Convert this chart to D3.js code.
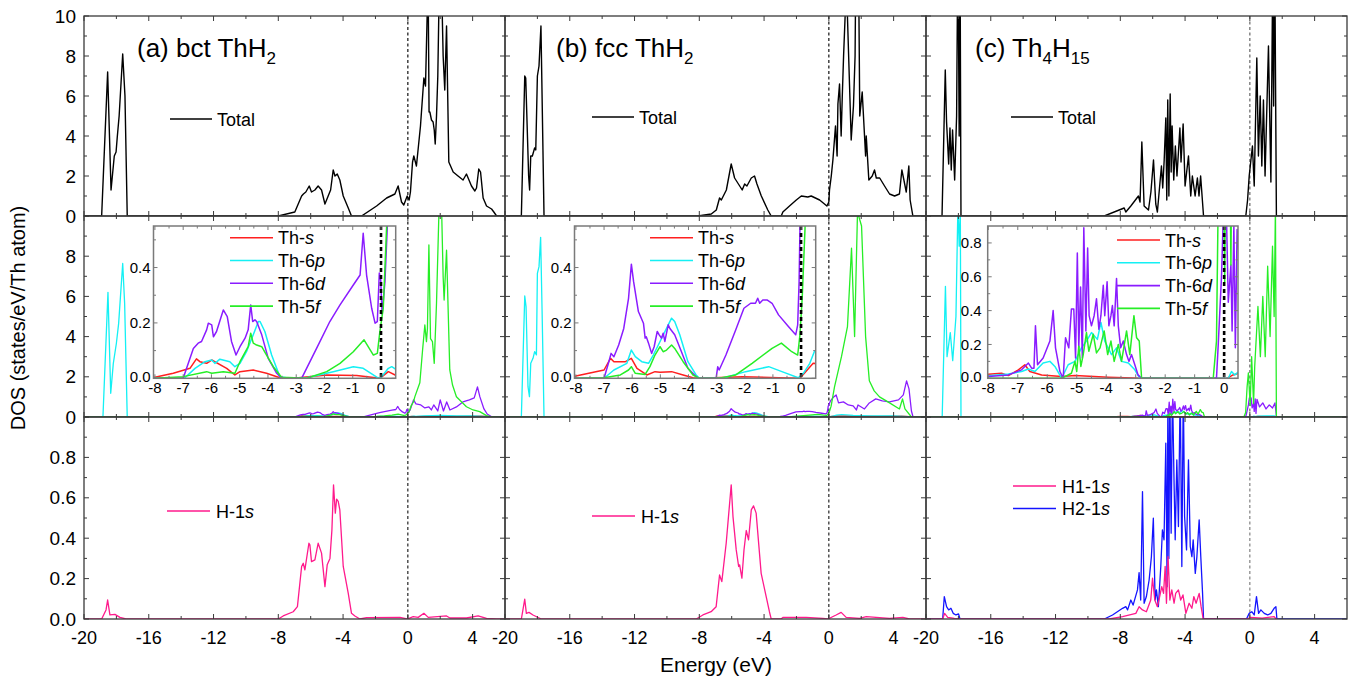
<!DOCTYPE html>
<html>
<head>
<meta charset="utf-8">
<script src="https://cdn.jsdelivr.net/npm/d3@7"></script>
<style>
  body { margin: 0; background: #fff; }
  svg { display: block; }
  text { font-family: "Liberation Sans", Arial, Helvetica, sans-serif; fill: #000; }
</style>
</head>
<body>
<svg id="chart" width="1357" height="687"></svg>
<script>
// ---------- tick labels ----------
const energyTicks = [-20, -16, -12, -8, -4, 0, 4];
const totalTicks = [0, 2, 4, 6, 8, 10];
const partialTicks = [0, 2, 4, 6, 8];
const hydrogenTicks = [0, 0.2, 0.4, 0.6, 0.8];
const insetEnergyTicks = [-8, -7, -6, -5, -4, -3, -2, -1, 0];
const insetDosTicksAB = [0, 0.2, 0.4];
const insetDosTicksC = [0, 0.2, 0.4, 0.6, 0.8];
const panelTitles = [
  [["(a) bct ThH", false], ["2", true]],
  [["(b) fcc ThH", false], ["2", true]],
  [["(c) Th", false], ["4", true], ["H", false], ["15", true]]
];
const thLegend = [["Th-", "s"], ["Th-6", "p"], ["Th-6", "d"], ["Th-5", "f"]];

// ---------- total DOS, [energy (eV), states/eV/Th atom] ----------
const totalA = [[-20,0],[-18.91,0],[-18.54,7.2],[-18.33,1.3],[-18.13,3.0],[-18.02,3.2],[-17.94,4.0],[-17.83,5.0],[-17.61,8.1],[-17.47,6.0],[-17.33,0],[-8.0,0],[-6.98,0.2],[-6.56,1.0],[-6.45,1.1],[-6.3,1.2],[-6.09,1.5],[-5.95,1.2],[-5.74,1.3],[-5.54,1.5],[-5.33,1.3],[-5.12,0.6],[-4.92,1.0],[-4.77,1.3],[-4.61,2.3],[-4.5,2.0],[-4.36,2.1],[-4.2,1.8],[-3.99,1.0],[-3.68,0.4],[-3.48,0],[-2.86,0],[-1.93,0.5],[-1.31,0.9],[-0.8,1.1],[-0.6,1.5],[-0.39,0.7],[-0.25,0.55],[-0.04,1.0],[0.08,0.8],[0.16,1.2],[0.29,2.7],[0.37,3.0],[0.53,2.5],[0.78,4.5],[0.99,6.9],[1.09,6.5],[1.25,12],[1.31,5.2],[1.36,5.2],[1.46,4.8],[1.56,4.7],[1.63,4.3],[1.69,3.6],[1.77,5.0],[1.85,7.0],[1.93,11],[2.1,11],[2.18,8],[2.28,6.3],[2.39,9.5],[2.53,2.7],[2.8,2.2],[3.1,2.0],[3.41,1.8],[3.62,2.1],[3.93,1.5],[4.14,1.25],[4.24,1.4],[4.38,2.35],[4.49,2.2],[4.65,0.9],[4.86,0.5],[5.17,0.35],[5.31,0.2],[5.48,0],[6,0]];
const totalB = [[-20,0],[-18.99,0],[-18.78,7.0],[-18.72,6.9],[-18.54,2.0],[-18.48,1.3],[-18.41,3.0],[-18.31,3.0],[-18.17,3.4],[-18.1,3.3],[-18.0,7.0],[-17.9,7.5],[-17.78,9.5],[-17.59,0],[-8.09,0],[-7.26,0.1],[-6.95,0.3],[-6.75,0.9],[-6.64,0.8],[-6.33,1.3],[-6.03,2.6],[-5.82,1.9],[-5.35,1.3],[-5.2,1.6],[-5.06,1.5],[-4.79,1.9],[-4.59,2.0],[-4.44,1.6],[-4.17,1.0],[-3.77,0.3],[-3.56,0],[-2.94,0],[-2.84,0.2],[-2.43,0.5],[-2.01,0.8],[-1.7,1.0],[-1.3,0.95],[-1.09,1.0],[-0.57,0.8],[-0.12,0.5],[0,0.7],[0.04,1.3],[0.15,2.0],[0.25,2.8],[0.41,4.5],[0.51,3.0],[0.56,5.6],[0.66,6.6],[0.76,4.0],[0.83,6.0],[0.91,8.0],[1.03,10.5],[1.11,11],[1.38,3.8],[1.52,5.5],[1.62,8],[1.65,11],[1.85,11],[1.91,5],[2.06,6.2],[2.27,3.0],[2.31,4.0],[2.47,1.8],[2.68,2.0],[2.82,2.3],[2.93,1.9],[3.14,1.9],[3.44,1.5],[3.75,1.1],[4.06,1.0],[4.36,1.1],[4.51,2.3],[4.61,1.9],[4.78,1.2],[4.94,2.5],[5.02,0.8],[5.19,0],[6,0]];
const totalC = [[-20,0],[-19.01,0],[-18.81,7.3],[-18.73,4.7],[-18.6,2.6],[-18.52,4.4],[-18.44,2.3],[-18.36,4.3],[-18.23,1.8],[-18.11,5.0],[-18.03,14],[-17.95,4.0],[-17.9,14],[-17.84,0],[-8.99,0],[-8.07,0.3],[-7.76,0.4],[-7.66,0.2],[-7.35,0.5],[-6.88,1.0],[-6.78,0.7],[-6.67,3.7],[-6.53,0.5],[-6.26,0.3],[-6.11,1.2],[-5.95,2.8],[-5.81,0.6],[-5.71,0.2],[-5.46,2.5],[-5.38,1.4],[-5.29,2.8],[-5.19,4.9],[-5.13,0.8],[-5.07,5.8],[-5.0,1.0],[-4.92,6.1],[-4.86,2.2],[-4.8,4.5],[-4.7,1.8],[-4.6,3.5],[-4.5,2.0],[-4.32,4.4],[-4.25,2.7],[-4.12,4.6],[-4.0,1.5],[-3.79,3.0],[-3.65,1.0],[-3.55,2.0],[-3.38,1.0],[-3.24,1.9],[-3.14,1.0],[-3.04,2.0],[-2.86,0],[-0.25,0],[-0.14,0.8],[-0.04,2.0],[0.16,3.5],[0.27,1.5],[0.43,7.9],[0.53,3.0],[0.64,6.0],[0.74,2.5],[0.84,5.8],[0.94,2.0],[1.15,8.5],[1.3,1.7],[1.4,11],[1.47,5.5],[1.53,14],[1.64,0],[6,0]];

// ---------- Th partial DOS ----------
const thS_A = [[-20,0],[-8.5,0],[-8.0,0.004],[-7.35,0.018],[-6.76,0.036],[-6.53,0.07],[-6.41,0.06],[-6.17,0.054],[-5.99,0.066],[-5.46,0.036],[-5.17,0.012],[-4.99,0.024],[-4.52,0.03],[-4.05,0.018],[-3.58,0.002],[-3.1,0],[-1.92,0.012],[-0.86,0.01],[-0.04,0],[0.26,0.024],[0.5,0.012],[1.0,0.03],[2.0,0.05],[3.0,0.03],[4.5,0.04],[5.3,0],[6,0]];
const thP_A = [[-20,0],[-18.83,0],[-18.52,6.2],[-18.35,1.18],[-18.19,2.67],[-18.0,3.67],[-17.86,4.66],[-17.61,7.64],[-17.49,5.65],[-17.33,0],[-7.0,0],[-6.94,0.002],[-6.58,0.036],[-6.23,0.06],[-5.99,0.066],[-5.88,0.054],[-5.7,0.069],[-5.35,0.06],[-5.17,0.042],[-4.99,0.054],[-4.76,0.096],[-4.52,0.157],[-4.34,0.205],[-4.28,0.205],[-4.11,0.169],[-3.87,0.084],[-3.58,0.006],[-3.22,0],[-2.63,0.002],[-1.69,0.024],[-0.98,0.042],[-0.63,0.036],[-0.15,0.004],[-0.02,0],[0.26,0.036],[0.38,0.042],[0.5,0.034],[1.0,0.06],[2.0,0.08],[3.0,0.05],[4.0,0.05],[5.3,0],[6,0]];
const thD_A = [[-20,0],[-7.0,0],[-6.64,0.108],[-6.47,0.127],[-6.35,0.133],[-6.17,0.175],[-6.11,0.199],[-5.99,0.193],[-5.93,0.15],[-5.82,0.169],[-5.58,0.247],[-5.44,0.223],[-5.29,0.133],[-5.13,0.084],[-4.99,0.114],[-4.81,0.145],[-4.7,0.175],[-4.61,0.265],[-4.54,0.205],[-4.46,0.211],[-4.4,0.205],[-4.22,0.157],[-3.99,0.072],[-3.69,0.018],[-3.52,0],[-2.81,0],[-2.69,0.024],[-2.28,0.108],[-1.81,0.205],[-1.45,0.265],[-0.98,0.337],[-0.74,0.373],[-0.63,0.524],[-0.51,0.373],[-0.33,0.253],[-0.21,0.199],[-0.13,0.205],[-0.06,0.38],[-0.01,0.355],[0.04,0.23],[0.14,0.35],[0.35,0.85],[0.5,0.65],[0.8,0.6],[1.05,0.45],[1.3,0.5],[1.45,0.35],[1.6,0.6],[1.85,0.3],[2.0,0.85],[2.2,0.3],[2.4,0.75],[2.6,0.35],[3.0,0.5],[3.4,0.75],[3.8,0.85],[4.1,0.95],[4.3,1.5],[4.45,1.0],[4.7,0.4],[4.9,0.15],[5.2,0],[6,0]];
const thF_A = [[-20,0],[-8,0],[-7.0,0.006],[-6.17,0.024],[-5.99,0.018],[-5.58,0.024],[-5.17,0.018],[-4.99,0.06],[-4.7,0.114],[-4.61,0.163],[-4.52,0.127],[-4.4,0.12],[-4.22,0.114],[-4.05,0.084],[-3.81,0.042],[-3.52,0.004],[-2.63,0],[-1.92,0.024],[-1.45,0.054],[-0.98,0.096],[-0.6,0.139],[-0.27,0.084],[-0.13,0.09],[-0.04,0.169],[0.08,0.253],[0.2,0.55],[0.35,0.76],[0.43,1.0],[0.74,1.7],[0.91,3.33],[1.05,4.58],[1.15,3.75],[1.21,4.4],[1.3,8.56],[1.4,3.9],[1.52,3.75],[1.63,2.67],[1.77,5.66],[1.93,10.5],[2.08,10.5],[2.18,6.98],[2.24,5.82],[2.39,8.3],[2.49,5.3],[2.59,2.34],[2.76,1.59],[3.0,1.01],[3.31,0.76],[3.62,0.51],[4.03,0.35],[4.44,0.27],[4.86,0.07],[5.17,0],[6,0]];

const thS_B = [[-20,0],[-8.5,0],[-8,0.008],[-7.0,0.03],[-6.77,0.072],[-6.65,0.06],[-6.24,0.06],[-6.03,0.072],[-5.83,0.036],[-5.48,0.012],[-5.19,0.024],[-5.01,0.022],[-4.6,0.024],[-4.19,0.012],[-3.84,0.002],[-3.61,0],[-2.09,0.006],[-0.8,0.002],[-0.04,0],[0.43,0.054],[1.0,0.05],[2.0,0.04],[3.0,0.03],[4.5,0.04],[5.2,0],[6,0]];
const thP_B = [[-20,0],[-18.99,0],[-18.78,6.02],[-18.7,5.49],[-18.58,1.51],[-18.49,1.01],[-18.41,2.67],[-18.27,2.92],[-18.17,3.25],[-18.06,3.09],[-18.0,7.15],[-17.9,7.48],[-17.8,8.94],[-17.71,5.3],[-17.59,0],[-7.0,0],[-6.65,0.03],[-6.19,0.054],[-6.03,0.102],[-5.89,0.078],[-5.66,0.06],[-5.42,0.054],[-5.25,0.084],[-5.01,0.133],[-4.72,0.193],[-4.6,0.217],[-4.49,0.205],[-4.31,0.157],[-4.02,0.06],[-3.73,0.012],[-3.61,0],[-2.79,0],[-1.97,0.024],[-1.15,0.042],[-0.68,0.024],[-0.1,0.002],[0.08,0.018],[0.31,0.054],[0.47,0.096],[0.8,0.12],[1.5,0.08],[2.5,0.06],[4.0,0.05],[5.2,0],[6,0]];
const thD_B = [[-20,0],[-7.0,0],[-6.83,0.06],[-6.75,0.09],[-6.65,0.078],[-6.48,0.12],[-6.3,0.18],[-6.13,0.289],[-6.03,0.412],[-5.95,0.349],[-5.78,0.241],[-5.6,0.199],[-5.54,0.145],[-5.5,0.15],[-5.42,0.127],[-5.31,0.09],[-5.22,0.114],[-5.11,0.169],[-5.04,0.157],[-4.96,0.145],[-4.9,0.163],[-4.84,0.133],[-4.72,0.193],[-4.66,0.18],[-4.49,0.157],[-4.25,0.096],[-4.02,0.036],[-3.73,0.006],[-3.61,0],[-3.02,0],[-2.96,0.042],[-2.91,0.03],[-2.67,0.084],[-2.32,0.175],[-2.03,0.253],[-1.79,0.271],[-1.62,0.271],[-1.54,0.289],[-1.47,0.271],[-1.36,0.283],[-1.21,0.283],[-1.03,0.271],[-0.8,0.229],[-0.45,0.187],[-0.19,0.157],[-0.12,0.193],[-0.07,0.349],[-0.04,0.54],[0.1,0.8],[0.3,1.0],[0.45,1.1],[0.6,0.7],[0.9,0.75],[1.2,0.6],[1.5,0.55],[1.7,0.35],[1.8,0.6],[2.2,0.4],[2.5,0.7],[2.9,0.9],[3.3,0.8],[3.75,0.75],[4.3,0.85],[4.6,1.1],[4.8,1.8],[4.95,1.4],[5.1,0.3],[5.2,0],[6,0]];
const thF_B = [[-20,0],[-8,0],[-7.0,0.002],[-6.42,0.012],[-6.13,0.03],[-6.03,0.042],[-5.89,0.018],[-5.54,0.014],[-5.37,0.042],[-5.19,0.084],[-5.01,0.114],[-4.9,0.096],[-4.78,0.102],[-4.6,0.12],[-4.49,0.108],[-4.19,0.06],[-3.84,0.012],[-3.61,0],[-2.91,0],[-2.32,0.012],[-1.74,0.054],[-1.03,0.108],[-0.7,0.127],[-0.33,0.096],[-0.12,0.084],[-0.04,0.157],[0.04,0.289],[0.14,0.54],[0.35,1.5],[0.78,3.0],[1.15,4.5],[1.4,8.4],[1.59,4.0],[1.77,10.2],[2.02,9.5],[2.27,4.0],[2.5,1.8],[2.8,1.3],[3.13,1.0],[3.75,0.7],[4.36,0.4],[4.55,0.9],[4.7,0.4],[5.1,0],[6,0]];

const thS_C = [[-20,0],[-8.5,0],[-8,0.024],[-7.55,0.03],[-7.32,0.016],[-6.98,0.05],[-6.76,0.08],[-6.59,0.04],[-6.19,0.02],[-5.51,0.01],[-5.06,0.016],[-3.93,0.006],[-2.8,0],[0.1,0],[0.3,0.02],[0.5,0.03],[1.0,0.02],[1.65,0],[6,0]];
const thP_C = [[-20,0],[-19.0,0],[-18.8,6.5],[-18.7,3.0],[-18.5,4.2],[-18.35,2.8],[-18.15,5.0],[-18.03,10.5],[-17.95,8.5],[-17.88,10.5],[-17.84,0],[-8.5,0],[-8,0.015],[-7.32,0.025],[-6.87,0.04],[-6.64,0.055],[-6.42,0.04],[-6.14,0.09],[-5.91,0.1],[-5.74,0.07],[-5.51,0],[-5.29,0.08],[-5.06,0.1],[-4.84,0.18],[-4.67,0.22],[-4.5,0.27],[-4.3,0.23],[-4.18,0.33],[-4.05,0.22],[-3.82,0.14],[-3.65,0.18],[-3.48,0.1],[-3.25,0.09],[-3.03,0.05],[-2.86,0],[0.14,0],[0.25,0.04],[0.36,0.02],[0.5,0.04],[1.0,0.05],[1.5,0.06],[1.65,0],[6,0]];
const thD_C = [[-20,0],[-8.5,0],[-8,0.01],[-7.32,0.02],[-6.87,0.05],[-6.64,0.09],[-6.53,0.06],[-6.45,0.06],[-6.4,0.31],[-6.33,0.08],[-6.14,0.12],[-5.91,0.22],[-5.8,0.40],[-5.72,0.18],[-5.57,0.04],[-5.46,0],[-5.38,0.24],[-5.27,0.18],[-5.18,0.41],[-5.1,0.41],[-5.04,0.12],[-4.98,0.74],[-4.93,0.18],[-4.87,0.54],[-4.81,0.12],[-4.76,0.89],[-4.69,0.28],[-4.63,0.77],[-4.58,0.37],[-4.5,0.31],[-4.41,0.37],[-4.33,0.47],[-4.25,0.29],[-4.18,0.37],[-4.1,0.55],[-4.05,0.37],[-3.97,0.57],[-3.91,0.31],[-3.84,0.37],[-3.79,0.43],[-3.73,0.31],[-3.65,0.59],[-3.59,0.31],[-3.51,0.18],[-3.42,0.22],[-3.31,0.14],[-3.23,0.1],[-3.14,0.14],[-3.03,0.08],[-2.92,0.02],[-2.8,0],[-0.26,0],[-0.2,0.2],[-0.09,0.6],[-0.03,0.95],[0.08,0.95],[0.14,0.45],[0.23,0.67],[0.27,0.28],[0.33,0.9],[0.38,0.18],[0.44,0.88],[0.6,0.5],[0.8,0.7],[1.0,0.4],[1.2,0.6],[1.4,0.45],[1.55,0.7],[1.65,0],[6,0]];
const thF_C = [[-20,0],[-5.85,0],[-5.51,0],[-5.18,0.03],[-5.06,0.1],[-5.0,0.04],[-4.93,0.19],[-4.86,0.07],[-4.78,0.14],[-4.67,0.27],[-4.59,0.16],[-4.44,0.26],[-4.33,0.15],[-4.21,0.18],[-4.07,0.28],[-3.95,0.14],[-3.84,0.22],[-3.73,0.1],[-3.59,0.2],[-3.48,0.1],[-3.31,0.28],[-3.2,0.14],[-3.06,0.37],[-2.97,0.24],[-2.88,0.22],[-2.8,0],[-0.37,0],[-0.26,0.22],[-0.17,1.5],[-0.09,2.2],[0.02,0.57],[0.11,3.0],[0.23,0.67],[0.3,2.5],[0.5,5.5],[0.65,3.0],[0.8,6.0],[0.95,3.0],[1.1,7.5],[1.25,4.0],[1.4,8.5],[1.5,5.0],[1.58,10.5],[1.64,0],[6,0]];

// ---------- H 1s partial DOS ----------
const h1sA = [[-20,0],[-18.91,0],[-18.64,0.045],[-18.54,0.094],[-18.4,0.02],[-18.09,0.023],[-17.78,0.008],[-17.41,0],[-8.0,0],[-7.7,0.015],[-7.08,0.036],[-6.82,0.061],[-6.56,0.26],[-6.46,0.276],[-6.36,0.243],[-6.11,0.375],[-6.05,0.367],[-5.95,0.284],[-5.74,0.293],[-5.54,0.375],[-5.33,0.326],[-5.12,0.16],[-4.98,0.268],[-4.81,0.3],[-4.69,0.44],[-4.59,0.664],[-4.48,0.524],[-4.4,0.593],[-4.3,0.582],[-4.2,0.54],[-3.99,0.26],[-3.68,0.127],[-3.48,0.028],[-3.27,0.015],[-2.96,0],[-2.55,0.007],[-0.49,0.008],[-0.04,0],[0.33,0.012],[0.64,0.008],[0.99,0.028],[1.26,0.008],[2.39,0.015],[2.6,0.005],[3.62,0.005],[4.34,0.015],[4.86,0.003],[5.48,0],[6,0]];
const h1sB = [[-20,0],[-18.99,0],[-18.78,0.098],[-18.68,0.028],[-18.52,0.033],[-18.27,0.02],[-17.76,0],[-8.19,0],[-7.78,0.02],[-7.27,0.036],[-6.96,0.061],[-6.75,0.218],[-6.61,0.185],[-6.34,0.375],[-6.18,0.524],[-6.03,0.664],[-5.92,0.507],[-5.72,0.342],[-5.57,0.26],[-5.51,0.268],[-5.37,0.202],[-5.24,0.342],[-5.1,0.438],[-4.96,0.392],[-4.79,0.54],[-4.65,0.56],[-4.49,0.524],[-4.18,0.226],[-3.87,0.111],[-3.67,0.036],[-3.56,0],[-2.95,0],[-2.84,0.008],[-1.4,0.008],[-0.37,0.003],[-0.06,0],[0.45,0.02],[0.76,0.033],[1.07,0.008],[1.9,0.003],[2.31,0.012],[3.75,0.003],[4.57,0.008],[4.98,0],[6,0]];
const h1sC1 = [[-20,0],[-18.97,0],[-18.85,0.028],[-18.66,0.008],[-18.25,0.003],[-17.94,0],[-8.68,0],[-7.86,0.012],[-7.04,0.028],[-6.84,0.061],[-6.63,0.045],[-6.39,0.036],[-6.12,0.094],[-6.01,0.202],[-5.87,0.094],[-5.71,0.061],[-5.57,0.111],[-5.44,0.16],[-5.33,0.127],[-5.23,0.26],[-5.15,0.078],[-5.05,0.309],[-4.94,0.094],[-4.82,0.144],[-4.68,0.078],[-4.58,0.127],[-4.41,0.144],[-4.27,0.094],[-4.13,0.119],[-3.95,0.028],[-3.75,0.078],[-3.58,0.053],[-3.46,0.111],[-3.32,0.078],[-3.13,0.127],[-3.01,0.061],[-2.88,0],[-0.17,0],[0.04,0.008],[0.76,0.004],[1.5,0.012],[1.62,0],[1.7,0]];
const h2sC = [[-20,0],[-18.97,0],[-18.87,0.111],[-18.73,0.061],[-18.6,0.045],[-18.46,0.053],[-18.32,0.028],[-18.15,0.02],[-17.99,0.025],[-17.9,0],[-8.99,0],[-8.48,0.02],[-7.86,0.053],[-7.66,0.061],[-7.55,0.045],[-7.35,0.094],[-7.21,0.069],[-6.94,0.144],[-6.84,0.23],[-6.74,0.094],[-6.63,0.631],[-6.53,0.078],[-6.39,0.111],[-6.22,0.193],[-6.08,0.309],[-5.96,0.499],[-5.85,0.094],[-5.77,0.144],[-5.65,0.061],[-5.5,0.26],[-5.4,0.441],[-5.3,0.392],[-5.19,0.871],[-5.11,0.16],[-5.06,1.15],[-5.0,0.3],[-4.94,1.15],[-4.86,0.425],[-4.78,1.15],[-4.68,0.673],[-4.61,0.392],[-4.51,0.788],[-4.41,0.458],[-4.3,1.15],[-4.2,0.26],[-4.11,1.15],[-4.03,0.507],[-3.91,0.342],[-3.79,0.788],[-3.68,0.359],[-3.58,0.309],[-3.5,0.392],[-3.37,0.226],[-3.27,0.309],[-3.13,0.491],[-3.03,0.309],[-2.92,0.127],[-2.86,0],[-0.21,0],[-0.04,0.028],[0.12,0.036],[0.27,0.02],[0.41,0.111],[0.54,0.028],[0.68,0.045],[0.89,0.028],[1.1,0.02],[1.3,0.028],[1.5,0.053],[1.61,0.061],[1.67,0],[6,0]];

// ---------- layout ----------
const svg = d3.select("#chart");
const defs = svg.append("defs");
const colRanges = [[84, 505], [505, 926], [926, 1347]];
const rowTop = [216, 16], rowMid = [417, 216], rowBot = [619, 417];
const colors = { s: "#ff1f1f", p: "#14f0f4", d: "#8a1cff", f: "#26ee26", h1: "#ff1a8c", h2: "#1414ff" };
const frameColor = "#3a3a3a";

const panels = [
  { total: totalA, th: [thS_A, thP_A, thD_A, thF_A],
    hyd: [{ data: h1sA, color: colors.h1, label: ["H-1", "s"] }],
    titleX: 137, totalLeg: [170, 119], hLeg: [167, 511],
    inset: { x: [153.5, 395.7], dom: [-8.05, 0.52], ymax: 0.55, yTicks: insetDosTicksAB, legX: 230, labGap: 3 } },
  { total: totalB, th: [thS_B, thP_B, thD_B, thF_B],
    hyd: [{ data: h1sB, color: colors.h1, label: ["H-1", "s"] }],
    titleX: 556, totalLeg: [592, 117], hLeg: [592, 516],
    inset: { x: [574.5, 815.7], dom: [-8.05, 0.52], ymax: 0.55, yTicks: insetDosTicksAB, legX: 650, labGap: 3 } },
  { total: totalC, th: [thS_C, thP_C, thD_C, thF_C],
    hyd: [{ data: h2sC, color: colors.h2, label: ["H2-1", "s"] },
          { data: h1sC1, color: colors.h1, label: ["H1-1", "s"] }],
    titleX: 975, totalLeg: [1011, 117], hLeg: [1013, 486],
    inset: { x: [987.7, 1238], dom: [-8.02, 0.47], ymax: 0.9, yTicks: insetDosTicksC, legX: 1117, legY0: 240, labGap: 6 } }
];
const thColors = [colors.s, colors.p, colors.d, colors.f];

function clip(id, x0, y0, x1, y1) {
  defs.append("clipPath").attr("id", id).append("rect")
    .attr("x", x0).attr("y", y0).attr("width", x1 - x0).attr("height", y1 - y0);
  return `url(#${id})`;
}
function curve(g, data, x, y, color, width, clipRef) {
  g.append("path").datum(data)
    .attr("d", d3.line().x(d => x(d[0])).y(d => y(d[1])))
    .attr("fill", "none").attr("stroke", color).attr("stroke-width", width)
    .attr("stroke-linejoin", "round").attr("clip-path", clipRef);
}
function seg(g, x1, y1, x2, y2, color, w) {
  g.append("line").attr("x1", x1).attr("y1", y1).attr("x2", x2).attr("y2", y2)
    .attr("stroke", color).attr("stroke-width", w);
}
// inward ticks on all four sides of a frame
function frameTicks(g, x, y, xMaj, xMin, yMaj, yMin, lMaj, lMin, color) {
  const [xa, xb] = x.range(), [ya, yb] = y.range();
  const xt = (v, l) => { const px = x(v); seg(g, px, ya, px, ya - l, color, 1); seg(g, px, yb, px, yb + l, color, 1); };
  const yt = (v, l) => { const py = y(v); seg(g, xa, py, xa + l, py, color, 1); seg(g, xb, py, xb - l, py, color, 1); };
  xMaj.forEach(v => xt(v, lMaj)); xMin.forEach(v => xt(v, lMin));
  yMaj.forEach(v => yt(v, lMaj)); yMin.forEach(v => yt(v, lMin));
}
function richText(g, x, y, parts, size, anchor) {
  const t = g.append("text").attr("x", x).attr("y", y).attr("font-size", size)
    .attr("text-anchor", anchor || "start");
  parts.forEach(([s, italic]) => t.append("tspan").text(s).attr("font-style", italic ? "italic" : "normal"));
  return t;
}
function fermi(g, x, y0, y1, color, w, dash) {
  g.append("line").attr("x1", x).attr("x2", x).attr("y1", y0).attr("y2", y1)
    .attr("stroke", color).attr("stroke-width", w).attr("stroke-dasharray", dash);
}

const xMajorVals = energyTicks;
const xMinorVals = [-18, -14, -10, -6, -2, 2];

panels.forEach((p, ci) => {
  const [cx0, cx1] = colRanges[ci];
  const x = d3.scaleLinear().domain([-20, 6]).range([cx0, cx1]);
  const g = svg.append("g");
  const fermiColor = ci === 2 ? "#666" : "#111";

  // --- top row: total DOS ---
  const yT = d3.scaleLinear().domain([0, 10]).range(rowTop);
  fermi(g, x(0), rowTop[1], rowTop[0], fermiColor, 1.2, "3,2.5");
  curve(g, p.total, x, yT, "#000", 1.4, clip(`ct${ci}`, cx0, rowTop[1], cx1, rowTop[0]));
  seg(g, p.totalLeg[0], p.totalLeg[1], p.totalLeg[0] + 42, p.totalLeg[1], "#000", 1.4);
  g.append("text").attr("x", p.totalLeg[0] + 47).attr("y", p.totalLeg[1] + 6.5)
    .attr("font-size", 18).text("Total");
  // title with subscripts
  const title = g.append("text").attr("x", p.titleX).attr("y", 57).attr("font-size", 26);
  panelTitles[ci].forEach(([s, sub], k) => {
    title.append("tspan").text(s).attr("font-size", sub ? 17 : 26)
      .attr("dy", sub ? 7 : (k > 0 ? -7 : 0));
  });

  // --- middle row: Th partial DOS ---
  const yM = d3.scaleLinear().domain([0, 10]).range(rowMid);
  fermi(g, x(0), rowMid[1], rowMid[0], fermiColor, 1.2, "3,2.5");
  const cm = clip(`cm${ci}`, cx0, rowMid[1], cx1, rowMid[0]);
  p.th.forEach((d, k) => curve(g, d, x, yM, thColors[k], 1.3, cm));

  // --- bottom row: H partial DOS ---
  const yB = d3.scaleLinear().domain([0, 1]).range(rowBot);
  fermi(g, x(0), rowBot[1], rowBot[0], ci === 2 ? "#777" : "#111", 1.1, "3,2.5");
  const cb = clip(`cb${ci}`, cx0, rowBot[1], cx1, rowBot[0]);
  p.hyd.forEach(h => curve(g, h.data, x, yB, h.color, 1.3, cb));
  // legend: H1 listed above H2 in panel (c)
  const legendOrder = p.hyd.length > 1 ? [p.hyd[1], p.hyd[0]] : p.hyd;
  legendOrder.forEach((h, k) => {
    const ly = p.hLeg[1] + k * 22.5;
    seg(g, p.hLeg[0], ly, p.hLeg[0] + 43, ly, h.color, 1.4);
    richText(g, p.hLeg[0] + 49, ly + 6.5, [[h.label[0], false], [h.label[1], true]], 18);
  });

  // frames and ticks for the three rows
  [[yT, totalTicks, d3.range(1, 10, 2)], [yM, partialTicks.concat([10]), d3.range(1, 10, 2)],
   [yB, hydrogenTicks.concat([1]), d3.range(0.1, 1, 0.2)]].forEach(([y, maj, min]) => {
    const [ya, yb] = y.range();
    g.append("rect").attr("x", cx0).attr("y", yb).attr("width", cx1 - cx0).attr("height", ya - yb)
      .attr("fill", "none").attr("stroke", frameColor).attr("stroke-width", 1.3);
    frameTicks(g, x, y, xMajorVals, xMinorVals, maj, min, 5, 3, frameColor);
  });

  // energy tick labels under the bottom row
  energyTicks.forEach(v => {
    g.append("text").attr("x", x(v)).attr("y", 644).attr("font-size", 18)
      .attr("text-anchor", "middle").text(v);
  });

  // --- inset: zoom on the occupied valence band ---
  const ins = p.inset;
  const iy0 = 378.3, iy1 = 226;
  const xi = d3.scaleLinear().domain(ins.dom).range(ins.x);
  const yi = d3.scaleLinear().domain([0, ins.ymax]).range([iy0, iy1]);
  const gi = svg.append("g");
  gi.append("rect").attr("x", ins.x[0]).attr("y", iy1).attr("width", ins.x[1] - ins.x[0])
    .attr("height", iy0 - iy1).attr("fill", "#fff");
  const ci2 = clip(`ci${ci}`, ins.x[0], iy1, ins.x[1], iy0);
  p.th.forEach((d, k) => curve(gi, d, xi, yi, thColors[k], 1.5, ci2));
  fermi(gi, xi(0), iy1, iy0, "#000", 2.6, "4,3");
  gi.append("rect").attr("x", ins.x[0]).attr("y", iy1).attr("width", ins.x[1] - ins.x[0])
    .attr("height", iy0 - iy1).attr("fill", "none").attr("stroke", "#7a7a7a").attr("stroke-width", 1.5);
  const yMinor = d3.range(0.1, ins.ymax, 0.2).filter(v => v < ins.ymax);
  const yMajor = d3.range(0, ins.ymax + 1e-9, 0.2);
  frameTicks(gi, xi, yi, insetEnergyTicks, d3.range(-7.5, 0.5, 1), yMajor, yMinor, 4, 2.5, "#7a7a7a");
  insetEnergyTicks.forEach(v => {
    gi.append("text").attr("x", xi(v)).attr("y", 393).attr("font-size", 15)
      .attr("text-anchor", "middle").text(v);
  });
  ins.yTicks.forEach(v => {
    gi.append("text").attr("x", ins.x[0] - ins.labGap).attr("y", yi(v) + (v === 0 ? 3.5 : 5.5))
      .attr("font-size", 15).attr("text-anchor", "end").text(d3.format(".1f")(v));
  });
  const ly0 = ins.legY0 || 237.7;
  thLegend.forEach(([a, b], k) => {
    const ly = ly0 + k * 22.8;
    seg(gi, ins.legX, ly, ins.legX + 43, ly, thColors[k], 1.6);
    richText(gi, ins.legX + 48, ly + 6.5, [[a, false], [b, true]], 18);
  });
});

// y-axis tick labels on the left column
const yLab = (vals, scale, fmt) => vals.forEach(v => {
  svg.append("text").attr("x", 76).attr("y", scale(v) + 6.5).attr("font-size", 19)
    .attr("text-anchor", "end").text(fmt(v));
});
yLab(totalTicks, d3.scaleLinear().domain([0, 10]).range(rowTop), d3.format("d"));
yLab(partialTicks, d3.scaleLinear().domain([0, 10]).range(rowMid), d3.format("d"));
yLab(hydrogenTicks, d3.scaleLinear().domain([0, 1]).range(rowBot), d3.format(".1f"));

// axis titles
svg.append("text").attr("x", 716).attr("y", 672).attr("font-size", 21)
  .attr("text-anchor", "middle").text("Energy (eV)");
svg.append("text").attr("transform", "translate(25,318) rotate(-90)").attr("font-size", 20)
  .attr("text-anchor", "middle").text("DOS (states/eV/Th atom)");
</script>
</body>
</html>
